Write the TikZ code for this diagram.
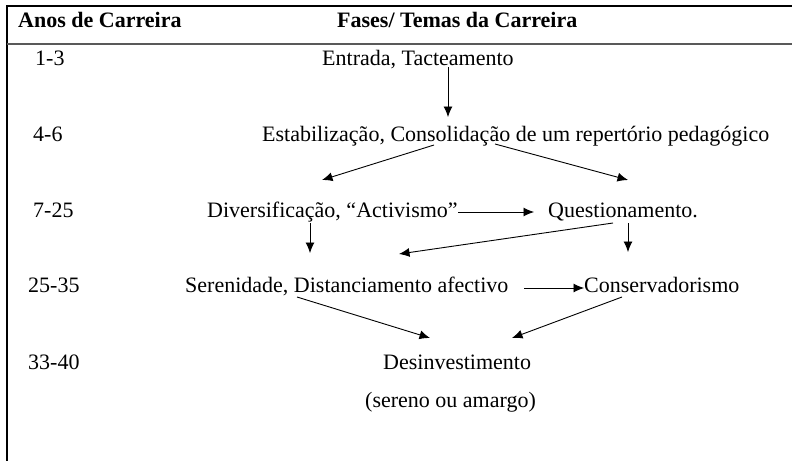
\documentclass[tikz,border=0pt]{standalone}
\usepackage{fontspec}
\setmainfont{Liberation Serif}
\usetikzlibrary{arrows.meta,calc}
\tikzset{
  txt/.style={anchor=base west,inner sep=0pt,font=\fontsize{22}{26}\selectfont},
  hdr/.style={txt,font=\fontsize{22}{26}\selectfont\bfseries},
  arr/.style={line width=0.9pt,-{Latex[length=10.5pt,width=9pt]}}
}
\begin{document}
\begin{tikzpicture}[x=1pt,y=-1pt]
      \useasboundingbox (0,0) rectangle (792,461);
      \draw[line width=2pt] (792,6) -- (7,6) -- (7,461);
      \draw[line width=1.8pt,black!65] (7,44) -- (792,44);
      \node[hdr] (anos) at (18,27) {Anos de Carreira};
      \node[hdr] (fases) at (337,27) {Fases/ Temas da Carreira};
      \node[txt] (a1) at (35,65) {1-3};
      \node[txt] (a2) at (33,141) {4-6};
      \node[txt] (a3) at (33,217) {7-25};
      \node[txt] (a4) at (28,292) {25-35};
      \node[txt] (a5) at (28,369) {33-40};
      \node[txt] (entrada) at (322,65) {Entrada, Tacteamento};
      \node[txt] (estab) at (262,141) {Estabilização, Consolidação de um repertório pedagógico};
      \node[txt] (divers) at (207,217) {Diversificação, “Activismo”};
      \node[txt] (quest) at (548,217) {Questionamento.};
      \node[txt] (seren) at (185,292) {Serenidade, Distanciamento afectivo};
      \node[txt] (conserv) at (584,292) {Conservadorismo};
      \node[txt] (desinv) at (383,369) {Desinvestimento};
      \node[txt] (sereno) at (365,407) {(sereno ou amargo)};
      \begin{scope}[arr]
        \draw ($(entrada.base west)+(126,2)$) to ($(estab.base west)+(186,-24)$);
        \draw ($(estab.base west)+(172,4)$) to ($(divers.base west)+(115,-37)$);
        \draw ($(estab.base west)+(233,3)$) to ($(quest.base west)+(80,-37)$);
        \draw ($(divers.base west)+(251,-5)$) to ($(quest.base west)+(-14,-5)$);
        \draw ($(quest.base west)+(65,6)$) to ($(seren.base west)+(214,-38)$);
        \draw ($(quest.base west)+(80,6)$) to ($(conserv.base west)+(44,-40)$);
        \draw ($(divers.base west)+(103,6)$) to ($(seren.base west)+(125,-39)$);
        \draw ($(seren.base west)+(339,-4)$) to ($(conserv.base west)+(0,-4)$);
        \draw ($(seren.base west)+(112,5)$) to ($(desinv.base west)+(47,-31)$);
        \draw ($(conserv.base west)+(38,5)$) to ($(desinv.base west)+(129,-31)$);
      \end{scope}
    \end{tikzpicture}
\end{document}
